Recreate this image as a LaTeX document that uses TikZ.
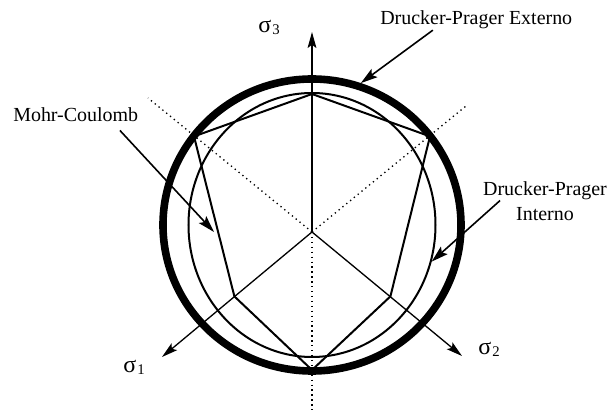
\documentclass[tikz,border=0pt]{standalone}
\usepackage{fontspec}
\setmainfont{Liberation Serif}
\usepackage{tikz}
\usetikzlibrary{arrows.meta, shapes.geometric}
\tikzset{
  % a principal stress axis
  ax/.style    = {-{Stealth[length=4mm,width=2.2mm,inset=0.8mm]},
                  line width=0.33mm},
  % the same axis, continued behind the origin
  axd/.style   = {line width=0.33mm, dash pattern=on 0.33mm off 0.9mm},
  % the Mohr-Coulomb section
  mcp/.style   = {line width=0.5mm, line join=round},
  % the inner Drucker-Prager cone
  dpin/.style  = {draw, ellipse, inner sep=0pt, line width=0.5mm,
                  minimum width=61.75mm, minimum height=66mm},
  % the outer Drucker-Prager cone
  dpout/.style = {draw, ellipse, inner sep=0pt, line width=1.9mm,
                  minimum width=74.5mm, minimum height=73mm},
  % a label
  lb/.style    = {font=\fontsize{14.2}{17.7}\selectfont, inner sep=0pt},
  % a pointer from a label to its curve
  ptr/.style   = {-{Stealth[length=4.2mm,width=2.5mm,inset=0.8mm]},
                  line width=0.4mm},
}
\newcommand{\sigsub}[1]{{\fontsize{17}{17}\selectfont σ}\kern0.3mm%
  \raisebox{-0.5mm}{\fontsize{10.5}{10.5}\selectfont #1}}

\begin{document}
\begin{tikzpicture}[x=1mm, y=1mm]
  \useasboundingbox (-78,-45.5) rectangle (74.75,58);
  % --- principal axes ---
  \coordinate (o)   at (0,0);
  \coordinate (s1)  at (-37.5,-31.25);
  \coordinate (s2)  at (37.5,-31);
  \coordinate (s3)  at (0,50);
  \coordinate (s1b) at (38.5,31.5);
  \coordinate (s2b) at (-41,33.5);
  \coordinate (s3b) at (0,-45.5);
  \draw[axd] (o) -- (s1b);
  \draw[axd] (o) -- (s2b);
  \draw[axd] (o) -- (s3b);
  \draw[ax] (o) -- (s1);
  \draw[ax] (o) -- (s2);
  \draw[ax] (o) -- (s3);
  % --- Mohr-Coulomb hexagon ---
  \coordinate (m1) at (0,34.5);
  \coordinate (m2) at (-29.5,23.9);
  \coordinate (m3) at (-19.4,-16.1);
  \coordinate (m4) at (0,-34.5);
  \coordinate (m5) at (19.6,-16.1);
  \coordinate (m6) at (29.5,23.9);
  \draw[mcp] (m1) -- (m2) -- (m3) -- (m4) -- (m5) -- (m6) -- cycle;
  % --- Drucker-Prager cones ---
  \node[dpin]  (dpi) at (0,1.75) {};
  \node[dpout] (dpo) at (0,1.75) {};
  % --- labels ---
  \node[lb, anchor=base west] (s3l) at (-13.5,49.75) {\sigsub{3}};
  \node[lb, anchor=base west] (s1l) at (-47.25,-35.25) {\sigsub{1}};
  \node[lb, anchor=base west] (s2l) at (41.5,-30.75) {\sigsub{2}};
  \node[lb, anchor=base west] (dpel) at (17,51.75) {Drucker-Prager Externo};
  \node[lb, anchor=base west] (mcl) at (-74.75,27.5) {Mohr-Coulomb};
  \node[lb, anchor=north, align=center] (dpil) at (58.25,12.7)
    {Drucker-Prager\\Interno};
  \coordinate (mct) at (-24.5,0);
  \draw[ptr] ([shift={(-10.85,-0.15)}]dpel.south) -- (dpo.71);
  \draw[ptr] ([shift={(11.05,-2)}]mcl.south) -- (mct);
  \draw[ptr] ([shift={(4.3,0.1)}]dpil.west) -- (dpi.-17);
\end{tikzpicture}
\end{document}
